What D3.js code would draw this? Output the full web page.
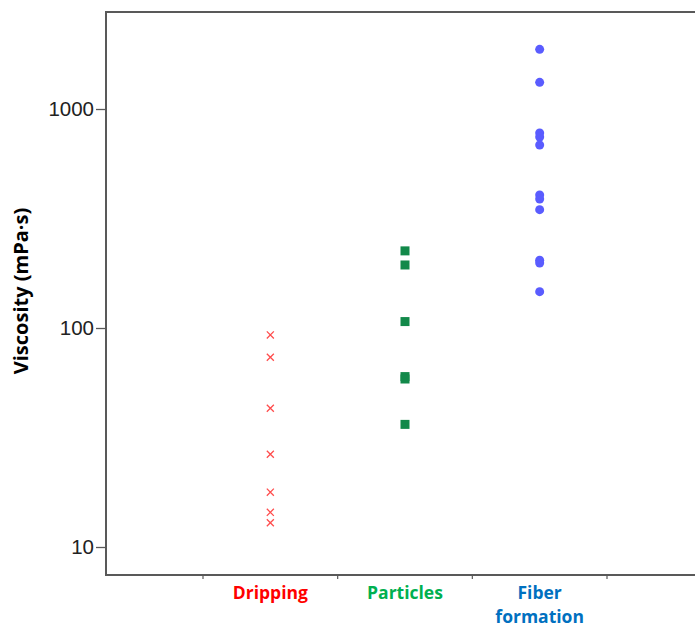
<!DOCTYPE html>
<html>
<head>
<meta charset="utf-8">
<script src="https://cdn.jsdelivr.net/npm/d3@7"></script>
<style>
  html, body { margin: 0; padding: 0; background: #fff; }
  svg { display: block; }
</style>
</head>
<body>
<svg id="chart" width="695" height="627"></svg>
<script>
// Viscosity of each solution, grouped by the electrospinning outcome
const categories = ["Dripping", "Particles", "Fiber formation"];
const labelLines = [["Dripping"], ["Particles"], ["Fiber", "formation"]];
const labelColors = ["#ff0000", "#00b050", "#0070c0"];

const drippingValues = [93, 73.5, 43, 26.5, 17.8, 14.4, 12.9];
const particlesValues = [225, 194, 107, 60, 58.5, 36.3];
const fiberValues = [1873, 1324, 777, 745, 685, 405, 388, 347, 204, 198, 146.5];

const yTicks = [10, 100, 1000];
const yDomain = [7.45, 2773];

const svg = d3.select("#chart");
const plotLeft = 106, plotRight = 695, plotTop = 12, plotBottom = 575;

const x = d3.scaleBand().domain(categories).range([203, 607]);
const y = d3.scaleLog().domain(yDomain).range([plotBottom, plotTop]);

const axisColor = "#595959";

// frame: top edge runs to the right border
svg.append("line")
  .attr("x1", plotLeft).attr("x2", plotRight).attr("y1", plotTop).attr("y2", plotTop)
  .attr("stroke", axisColor).attr("stroke-width", 2);

// y axis
const yAxis = svg.append("g")
  .attr("transform", `translate(${plotLeft},0)`)
  .call(d3.axisLeft(y).tickValues(yTicks).tickFormat(d3.format("d"))
    .tickSize(10).tickPadding(2));
yAxis.select(".domain").remove();
yAxis.append("line")
  .attr("x1", 0).attr("x2", 0).attr("y1", plotTop - 1).attr("y2", plotBottom + 1)
  .attr("stroke", axisColor).attr("stroke-width", 2);
yAxis.selectAll(".tick line").attr("stroke", axisColor).attr("stroke-width", 1.3);
yAxis.selectAll(".tick text")
  .attr("fill", "#222")
  .style("font-family", "'Liberation Sans', Arial, sans-serif")
  .style("font-size", "20.5px");

// x axis: ticks sit on the band boundaries
const boundaries = categories.map(c => x(c)).concat([x.range()[1]]);
const xAxis = svg.append("g").attr("transform", `translate(0,${plotBottom})`);
xAxis.append("line")
  .attr("x1", plotLeft).attr("x2", plotRight).attr("y1", 0).attr("y2", 0)
  .attr("stroke", axisColor).attr("stroke-width", 2);
xAxis.selectAll("line.tick")
  .data(boundaries)
  .join("line")
  .attr("class", "tick")
  .attr("x1", d => d).attr("x2", d => d)
  .attr("y1", 0).attr("y2", 4)
  .attr("stroke", axisColor).attr("stroke-width", 1.2);

// category labels
categories.forEach((c, i) => {
  const t = svg.append("text")
    .attr("x", x(c) + x.bandwidth() / 2)
    .attr("y", 599)
    .attr("text-anchor", "middle")
    .attr("fill", labelColors[i])
    .style("font-family", "'Open Sans', Lato, sans-serif")
    .style("font-weight", "bold")
    .style("font-size", "17.5px");
  labelLines[i].forEach((ln, k) => {
    t.append("tspan")
      .attr("x", x(c) + x.bandwidth() / 2)
      .attr("dy", k === 0 ? 0 : 24)
      .text(ln);
  });
});

// y axis title
svg.append("text")
  .attr("transform", `translate(28,291) rotate(-90)`)
  .attr("text-anchor", "middle")
  .attr("fill", "#000")
  .style("font-family", "'Open Sans', Lato, sans-serif")
  .style("font-weight", "bold")
  .style("font-size", "20px")
  .text("Viscosity (mPa·s)");

const cx = c => x(c) + x.bandwidth() / 2;

// Dripping: crosses
const cross = d3.symbol().type(d3.symbolX).size(34);
svg.append("g").selectAll("path")
  .data(drippingValues)
  .join("path")
  .attr("transform", d => `translate(${cx("Dripping")},${y(d)})`)
  .attr("d", cross)
  .attr("fill", "none")
  .attr("stroke", "#ff4d4d")
  .attr("stroke-width", 1.3);

// Particles: squares
svg.append("g").selectAll("rect")
  .data(particlesValues)
  .join("rect")
  .attr("x", cx("Particles") - 4.5)
  .attr("y", d => y(d) - 4.5)
  .attr("width", 9).attr("height", 9)
  .attr("fill", "#12894a");

// Fiber formation: circles
svg.append("g").selectAll("circle")
  .data(fiberValues)
  .join("circle")
  .attr("cx", cx("Fiber formation"))
  .attr("cy", d => y(d))
  .attr("r", 4.5)
  .attr("fill", "#5a5cff");
</script>
</body>
</html>
